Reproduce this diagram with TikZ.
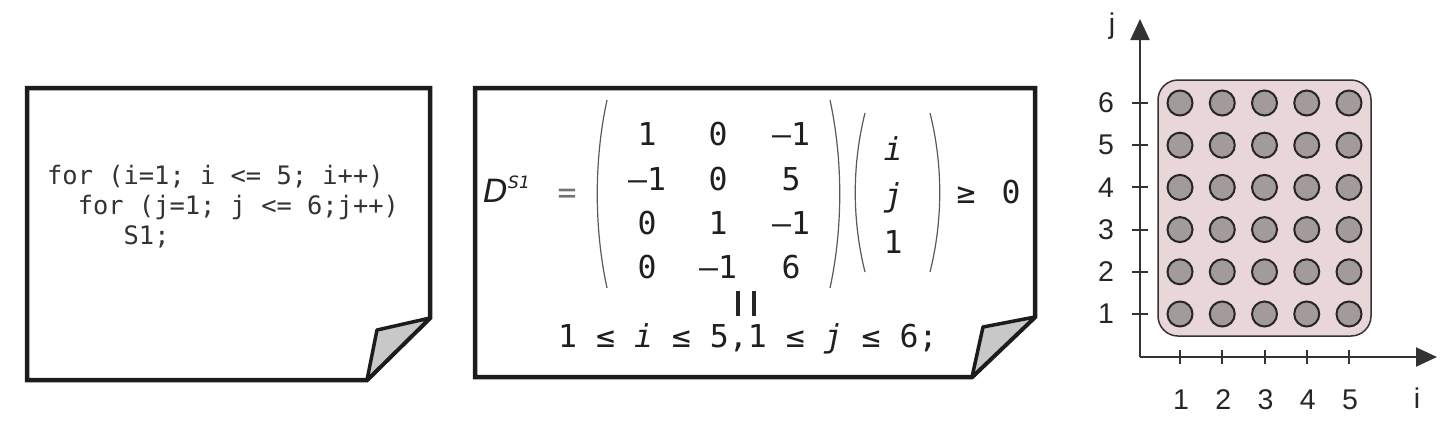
\documentclass[tikz,border=0pt]{standalone}
\usepackage{fontspec}
\setmainfont{Liberation Sans}
\newfontfamily\monofont{DejaVu Sans Mono}
\newfontfamily\dvsans{DejaVu Sans}
\usetikzlibrary{arrows.meta}
\definecolor{paperline}{HTML}{1C1C1C}
\definecolor{foldgray}{HTML}{C8C8C8}
\definecolor{codegray}{HTML}{333333}
\definecolor{domainpink}{HTML}{E9D6D8}
\definecolor{pointgray}{HTML}{A39A9A}
\definecolor{axisgray}{HTML}{333333}
\begin{document}
\begin{tikzpicture}[x=1pt,y=-1pt,
  paper/.style={draw=paperline, line width=4.5pt, fill=white, line join=miter},
  fold/.style={draw=paperline, line width=3.5pt, fill=foldgray, line join=round},
  codetext/.style={font=\monofont\fontsize{25.4}{31}\selectfont, text=codegray, anchor=base west, inner sep=0pt},
  mtext/.style={font=\monofont\fontsize{31.5}{38}\selectfont, text=black!88, anchor=base, inner sep=0pt},
  paren/.style={draw=black!65, line width=1.2pt},
  axis/.style={draw=axisgray, line width=2pt},
  tickmark/.style={draw=axisgray, line width=2pt},
  ticklabel/.style={font=\fontsize{28.5}{32}\selectfont, text=black!85, inner sep=0pt},
  point/.style={circle, minimum size=25pt, inner sep=0pt, fill=pointgray, draw=black!85, line width=2pt},
  domainbox/.style={draw=black!80, fill=domainpink, line width=1.5pt, rounded corners=20pt, minimum width=213pt, minimum height=256pt, inner sep=0pt}
]
\useasboundingbox (0,0) rectangle (1448,432);
\fill[white] (0,0) rectangle (1448,432);

% ---------- left paper ----------
\coordinate (L1) at (27,88);
\coordinate (L2) at (430,88);
\coordinate (L3) at (430,318);
\coordinate (L4) at (367,380);
\coordinate (L5) at (27,380);
\coordinate (LF) at (377,330);
\draw[paper] (L1) -- (L2) -- (L3) -- (L4) -- (L5) -- cycle;
\draw[fold] (L3) -- (LF) -- (L4) -- cycle;

\node[codetext] (code1) at (47,184) {for (i=1; i <= 5; i++)};
\node[codetext] (code2) at (77.6,214) {for (j=1; j <= 6;j++)};
\node[codetext] (code3) at (123.5,244) {S1;};

% ---------- middle paper ----------
\coordinate (M1) at (475,88);
\coordinate (M2) at (1035,88);
\coordinate (M3) at (1035,317);
\coordinate (M4) at (972,377);
\coordinate (M5) at (475,377);
\coordinate (MF) at (983,327);
\draw[paper] (M1) -- (M2) -- (M3) -- (M4) -- (M5) -- cycle;
\draw[fold] (M3) -- (MF) -- (M4) -- cycle;

\node[anchor=base west, inner sep=0pt, text=black!88, font=\dvsans\itshape\fontsize{32}{38}\selectfont] (dlab) at (483,202) {D};
\node[anchor=base west, inner sep=0pt, text=black!88, font=\dvsans\itshape\fontsize{17}{20}\selectfont] (dsup) at (508,188) {S1};
\node[mtext, text=black!55] (eqs) at (567,203) {=};

% parentheses
\draw[paren] (607,100) .. controls (594,160) and (594,228) .. (607,288);
\draw[paren] (830,100) .. controls (843,160) and (843,228) .. (830,288);
\draw[paren] (865,113) .. controls (852,165) and (852,220) .. (865,272);
\draw[paren] (930,113) .. controls (943,165) and (943,220) .. (930,272);

% matrix entries
\node[mtext] (a11) at (647,145) {1};
\node[mtext] (a12) at (718,145) {0};
\node[mtext] (a13) at (791,145) {–1};
\node[mtext] (a21) at (647,190) {–1};
\node[mtext] (a22) at (718,190) {0};
\node[mtext] (a23) at (791,190) {5};
\node[mtext] (a31) at (647,234) {0};
\node[mtext] (a32) at (718,234) {1};
\node[mtext] (a33) at (791,234) {–1};
\node[mtext] (a41) at (647,278) {0};
\node[mtext] (a42) at (718,278) {–1};
\node[mtext] (a43) at (791,278) {6};

% vector
\node[mtext] (vi) at (893,160) {\itshape i};
\node[mtext] (vj) at (893,206) {\itshape j};
\node[mtext] (v1) at (893,253) {1};

\node[mtext] (geq) at (966,203) {≥};
\node[mtext] (zero) at (1011,203) {0};

% rotated equals
\draw[line width=4.5pt, black!85] (738,291) -- (738,316);
\draw[line width=4.5pt, black!85] (754,291) -- (754,316);

\node[mtext, anchor=base west] (dom) at (558,347) {1 ≤ \textit{i} ≤ 5,1 ≤ \textit{j} ≤ 6;};

% ---------- graph ----------
\node[domainbox] (domain) at (1264.5,208) {};

\coordinate (O) at (1140,357);
\coordinate (Ytop) at (1140,19);
\coordinate (Xend) at (1437,357);
\draw[axis, -{Triangle[length=21pt,width=19pt]}] (O) -- (Ytop);
\draw[axis, -{Triangle[length=21pt,width=19pt]}] (O) -- (Xend);

\foreach \k in {1,...,5} {
  \pgfmathsetmacro\px{1180+42.25*(\k-1)}
  \draw[tickmark] (\px,350) -- (\px,364);
  \node[ticklabel] (xl\k) at (\px+1,400) {\k};
}
\foreach \k in {1,...,6} {
  \pgfmathsetmacro\py{314-42.2*(\k-1)}
  \draw[tickmark] (1132,\py) -- (1148,\py);
  \node[ticklabel] (yl\k) at (1106,\py) {\k};
}
\foreach \i in {1,...,5} {
  \foreach \j in {1,...,6} {
    \pgfmathsetmacro\px{1180+42.25*(\i-1)}
    \pgfmathsetmacro\py{314-42.2*(\j-1)}
    \node[point] (p-\i-\j) at (\px,\py) {};
  }
}
\node[ticklabel] (ilab) at (1417,398) {i};
\node[ticklabel] (jlab) at (1112,26) {j};
\end{tikzpicture}
\end{document}
